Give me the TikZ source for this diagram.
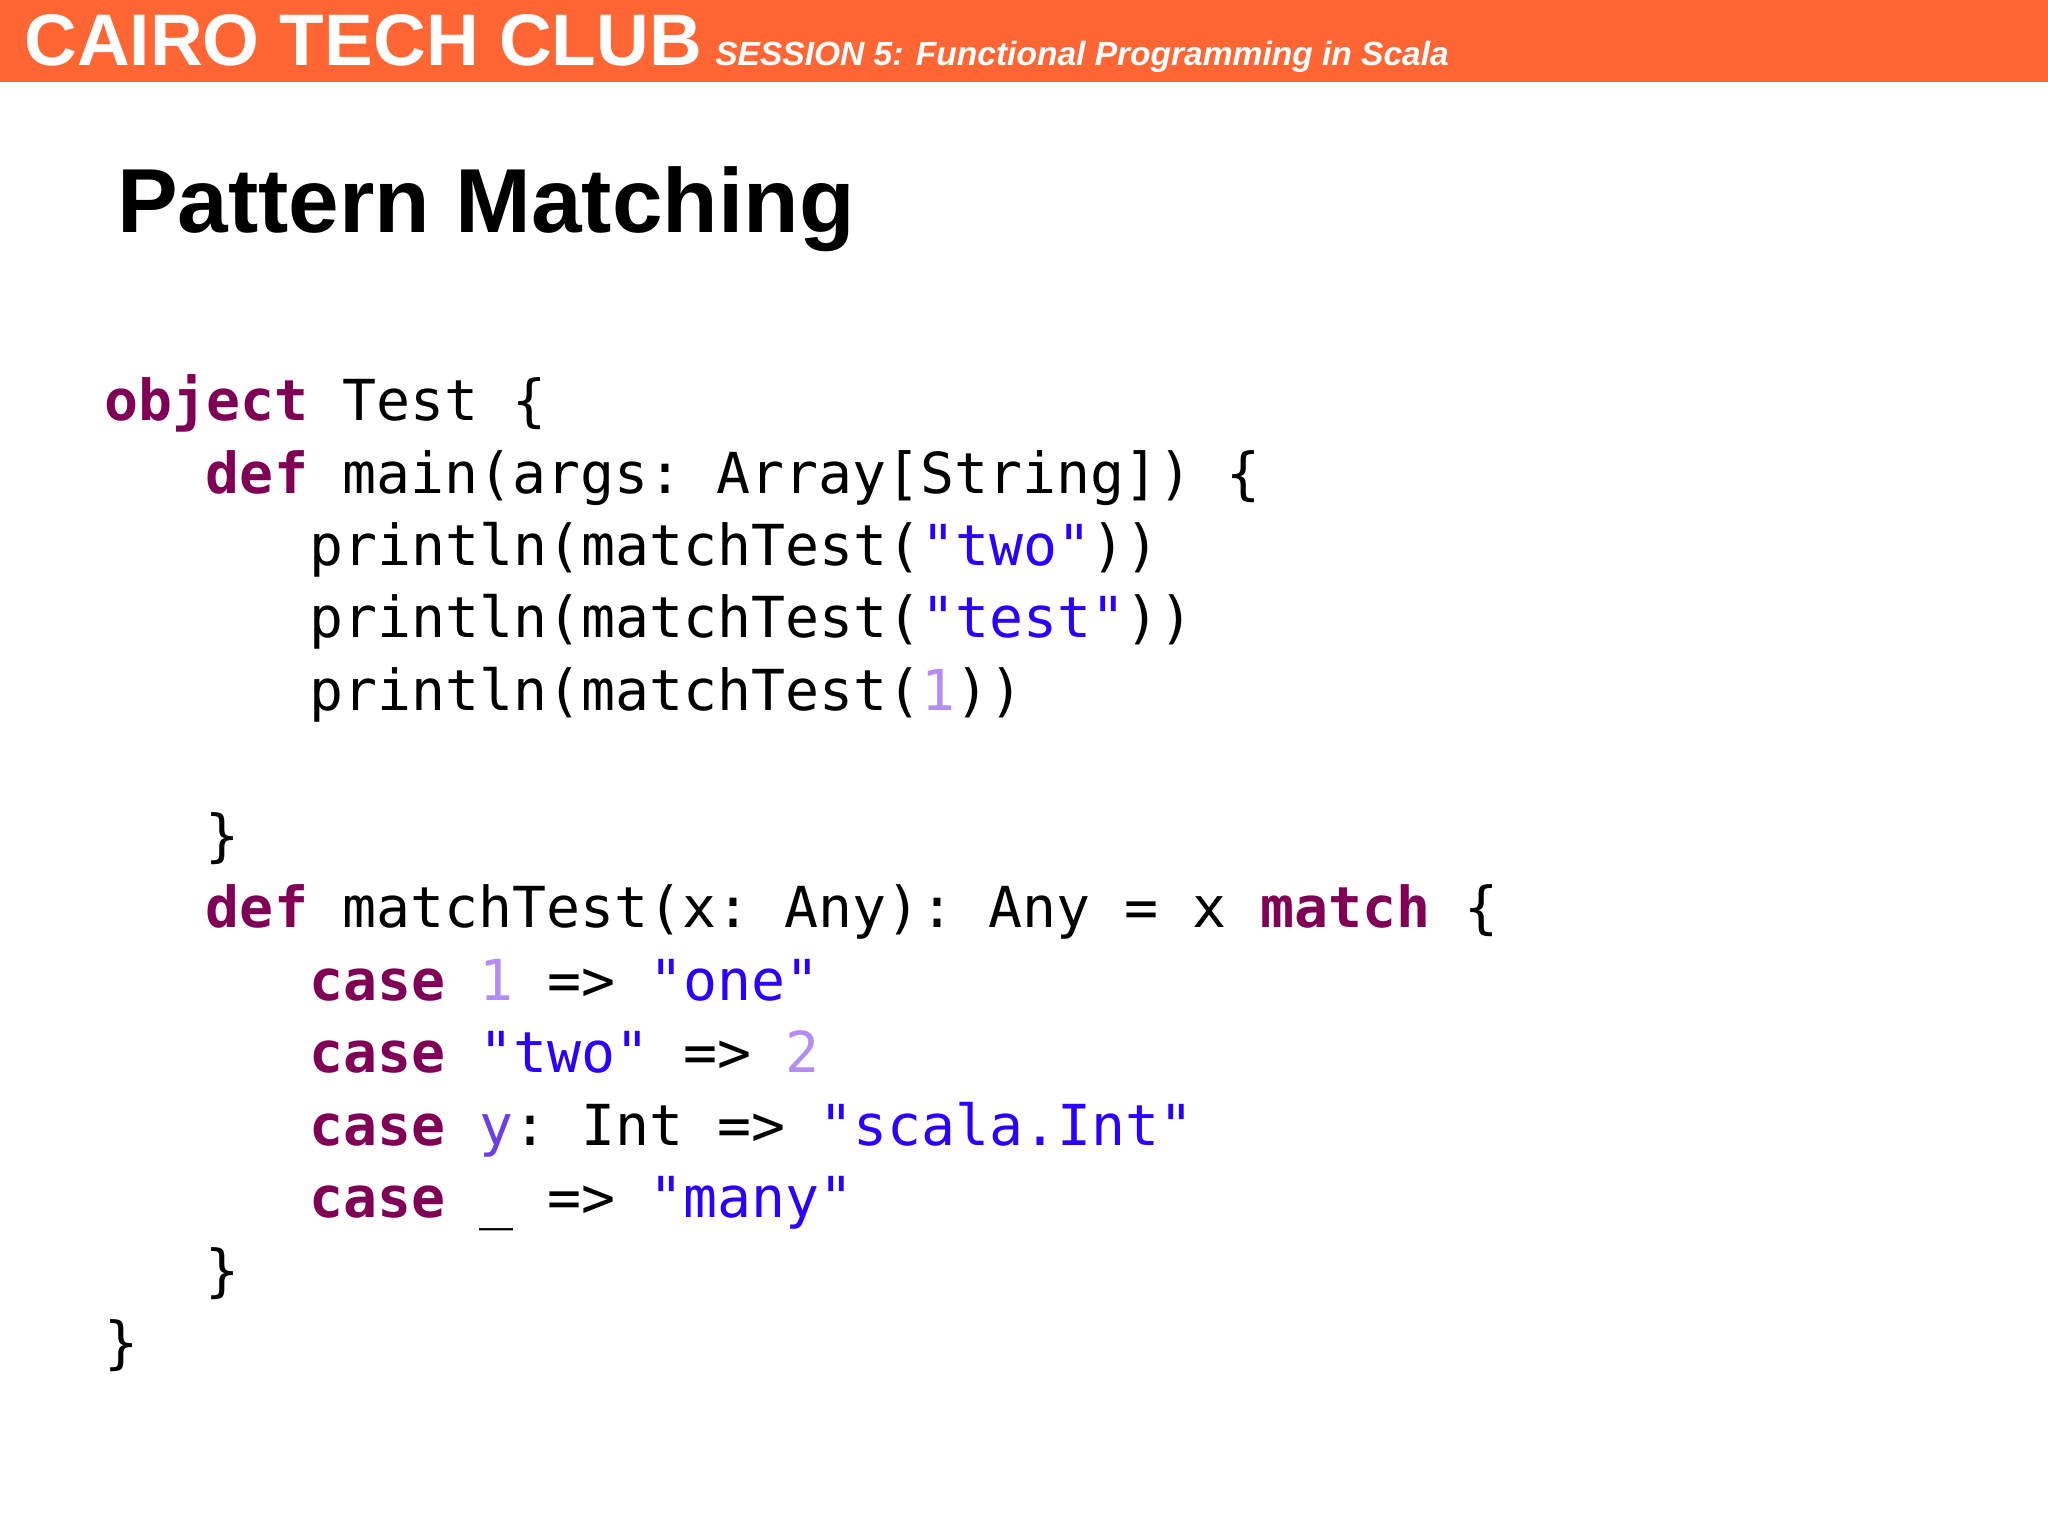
\documentclass[tikz,border=0pt]{standalone}
\usepackage{fontspec}
\setmainfont{Liberation Sans}
\setmonofont{DejaVu Sans Mono}
\definecolor{clubOrange}{HTML}{FF6633}
\definecolor{kwPurple}{HTML}{7F0055}
\definecolor{strBlue}{HTML}{2A00FF}
\definecolor{numLilac}{HTML}{B58CF2}
\definecolor{varViolet}{HTML}{6A3EE8}
\newcommand{\kw}[1]{\textcolor{kwPurple}{\bfseries #1}}
\newcommand{\str}[1]{\textcolor{strBlue}{#1}}
\newcommand{\num}[1]{\textcolor{numLilac}{#1}}
\begin{document}
\begin{tikzpicture}[
    x=0.01cm, y=-0.01cm,
    codeline/.style={anchor=base west, inner sep=0pt,
                     font=\fontsize{12.3pt}{14pt}\ttfamily}
  ]
    \useasboundingbox (0,0) rectangle (1568,1175);
    \fill[clubOrange] (0,0) rectangle (1568,63);
    \node[anchor=base west, inner sep=0pt, text=white,
          font=\fontsize{15.9pt}{18pt}\bfseries] (club) at (18,50) {CAIRO TECH CLUB};
    \node[anchor=base west, inner sep=0pt, text=white,
          font=\fontsize{7.3pt}{9pt}\bfseries\itshape] (session) at (547,50)
          {SESSION 5: Functional Programming in Scala};
    \node[anchor=base west, inner sep=0pt,
          font=\fontsize{19.8pt}{22pt}\bfseries] (title) at (89,178) {Pattern Matching};

    % code listing
    \node[codeline] (l1)  at (79,322)  {\kw{object} Test \{};
    \node[codeline] (l2)  at (157,378) {\kw{def} main(args: Array[String]) \{};
    \node[codeline] (l3)  at (236,433) {println(matchTest(\str{"two"}))};
    \node[codeline] (l4)  at (236,488) {println(matchTest(\str{"test"}))};
    \node[codeline] (l5)  at (236,544) {println(matchTest(\num{1}))};
    \node[codeline] (l6)  at (157,655) {\}};
    \node[codeline] (l7)  at (157,710) {\kw{def} matchTest(x: Any): Any = x \kw{match} \{};
    \node[codeline] (l8)  at (236,766) {\kw{case} \num{1} => \str{"one"}};
    \node[codeline] (l9)  at (236,821) {\kw{case} \str{"two"} => \num{2}};
    \node[codeline] (l10) at (236,877) {\kw{case} \textcolor{varViolet}{y}: Int => \str{"scala.Int"}};
    \node[codeline] (l11) at (236,932) {\kw{case} \_ => \str{"many"}};
    \node[codeline] (l12) at (157,988) {\}};
    \node[codeline] (l13) at (79,1043) {\}};
\end{tikzpicture}
\end{document}
